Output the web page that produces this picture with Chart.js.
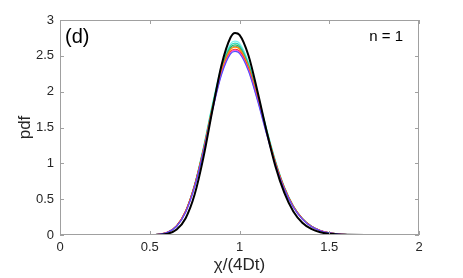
<!DOCTYPE html>
<html><head><meta charset="utf-8">
<script src="https://cdn.jsdelivr.net/npm/chart.js@4"></script>
<style>html,body{margin:0;padding:0;background:#fff}#wrap{width:463px;height:278px}</style>
</head><body><div id="wrap"><canvas id="c" width="463" height="278"></canvas></div>
<script>
const xBlack = [0.2,0.3,0.4,0.5,0.55,0.6,0.65,0.7,0.75,0.8,0.85,0.9,0.95,0.975,1.0,1.05,1.1,1.15,1.2,1.25,1.3,1.35,1.4,1.45,1.5,1.55,1.6,1.7,1.8,1.9,2.0];
const yBlack = [0,0,0,0.0004,0.003,0.018,0.076,0.234,0.564,1.094,1.754,2.372,2.755,2.819,2.792,2.504,2.005,1.458,0.961,0.587,0.328,0.171,0.084,0.038,0.017,0.007,0.003,0.0003,0,0,0];
const xColor = [0.45,0.5,0.55,0.6,0.65,0.7,0.75,0.8,0.85,0.9,0.95,0.975,1.0,1.05,1.1,1.15,1.2,1.25,1.3,1.35,1.4,1.45,1.5,1.55,1.6,1.7,1.75];
const yCyan    = [0,0.001,0.008,0.037,0.127,0.335,0.708,1.236,1.839,2.363,2.669,2.704,2.677,2.415,1.984,1.496,1.041,0.673,0.409,0.233,0.124,0.063,0.030,0.015,0.006,0.001,0];
const yAqua    = [0,0.001,0.008,0.037,0.126,0.332,0.701,1.224,1.821,2.340,2.643,2.678,2.651,2.392,1.965,1.481,1.031,0.666,0.405,0.231,0.123,0.063,0.030,0.014,0.006,0.001,0];
const yGreen   = [0,0.001,0.008,0.037,0.124,0.328,0.695,1.212,1.803,2.317,2.617,2.652,2.625,2.368,1.946,1.467,1.021,0.660,0.401,0.228,0.121,0.062,0.030,0.014,0.006,0.001,0];
const yGray    = [0,0.001,0.008,0.036,0.124,0.326,0.690,1.203,1.791,2.302,2.599,2.634,2.607,2.352,1.933,1.457,1.014,0.655,0.398,0.227,0.121,0.062,0.029,0.014,0.006,0.001,0];
const yOrange  = [0,0.001,0.009,0.038,0.126,0.330,0.692,1.200,1.782,2.290,2.587,2.621,2.595,2.345,1.930,1.458,1.016,0.658,0.401,0.229,0.122,0.063,0.030,0.014,0.006,0.001,0];
const yRed     = [0,0.002,0.010,0.040,0.130,0.334,0.694,1.190,1.762,2.262,2.556,2.592,2.566,2.318,1.906,1.440,1.004,0.651,0.398,0.229,0.122,0.063,0.030,0.014,0.006,0.001,0];
const yMagenta = [0,0.001,0.008,0.036,0.121,0.319,0.676,1.178,1.754,2.254,2.545,2.579,2.553,2.303,1.893,1.427,0.993,0.642,0.390,0.222,0.118,0.061,0.029,0.014,0.006,0.001,0];
const yBlue    = [0,0.001,0.009,0.037,0.122,0.318,0.671,1.170,1.741,2.238,2.528,2.561,2.535,2.287,1.879,1.416,0.986,0.637,0.387,0.221,0.117,0.060,0.029,0.014,0.006,0.001,0];
const xTicks = [0,0.5,1,1.5,2];
const yTicks = [0,0.5,1,1.5,2,2.5,3];
const panelLabel = "(d)";
const nLabel = "n = 1";
const xTitle = "χ/(4Dt)";
const yTitle = "pdf";

const FONT = "'Liberation Sans', Arial, Helvetica, sans-serif";
function pts(xs, ys){ return xs.map((x,i)=>({x:x, y:ys[i]})); }
function ds(ys, color){ return {data: pts(xColor, ys), borderColor: color, borderWidth: 1.2, pointRadius: 0, cubicInterpolationMode: 'monotone', fill: false}; }

const boxPlugin = {
  id: 'box',
  afterDraw(chart){
    const {ctx, chartArea: a, scales} = chart;
    ctx.save();
    ctx.strokeStyle = '#a0a0a0';
    ctx.lineWidth = 1;
    ctx.strokeRect(Math.round(a.left)+0.5, Math.round(a.top)+0.5, Math.round(a.right-a.left)-1, Math.round(a.bottom-a.top)-1);
    ctx.beginPath();
    const tl = 4;
    xTicks.forEach(v=>{
      const px = Math.round(scales.x.getPixelForValue(v))+0.5;
      ctx.moveTo(px, a.bottom); ctx.lineTo(px, a.bottom - tl);
      ctx.moveTo(px, a.top); ctx.lineTo(px, a.top + tl);
    });
    yTicks.forEach(v=>{
      const py = Math.round(scales.y.getPixelForValue(v))+0.5;
      ctx.moveTo(a.left, py); ctx.lineTo(a.left + tl, py);
      ctx.moveTo(a.right, py); ctx.lineTo(a.right - tl, py);
    });
    ctx.stroke();
    ctx.fillStyle = '#000';
    ctx.textBaseline = 'middle';
    ctx.textAlign = 'left';
    ctx.font = "20px " + FONT;
    ctx.fillText(panelLabel, a.left + 5, a.top + 17);
    ctx.font = "15px " + FONT;
    ctx.textAlign = 'right';
    ctx.fillText(nLabel, a.right - 16, a.top + 17);
    ctx.restore();
  }
};

new Chart(document.getElementById('c'), {
  type: 'line',
  data: {
    datasets: [
      {data: pts(xBlack, yBlack), borderColor: '#000000', borderWidth: 2, pointRadius: 0, cubicInterpolationMode: 'monotone', fill: false},
      ds(yBlue, '#5050ff'),
      ds(yMagenta, '#ff50c8'),
      ds(yRed, '#ff1a00'),
      ds(yOrange, '#ff9a00'),
      ds(yGray, '#808080'),
      ds(yGreen, '#20c060'),
      ds(yAqua, '#30d8c0'),
      ds(yCyan, '#80f0f0')
    ]
  },
  options: {
    responsive: false,
    animation: false,
    events: [],
    layout: {padding: {left: 0, top: 20, right: 44, bottom: 0}},
    plugins: {legend: {display: false}, tooltip: {enabled: false}},
    scales: {
      x: {
        type: 'linear', min: 0, max: 2,
        afterBuildTicks(s){ s.ticks = xTicks.map(v=>({value:v})); },
        afterFit(s){ s.height = 43; },
        ticks: {color: '#262626', font: {family: FONT, size: 13}, padding: 5, maxRotation: 0, callback: v => String(v)},
        grid: {display: false, drawTicks: false},
        border: {display: false},
        title: {display: true, text: xTitle, color: '#262626', font: {family: FONT, size: 17}, padding: {top: 0, bottom: 2}}
      },
      y: {
        type: 'linear', min: 0, max: 3,
        afterBuildTicks(s){ s.ticks = yTicks.map(v=>({value:v})); },
        afterFit(s){ s.width = 60; },
        ticks: {color: '#262626', font: {family: FONT, size: 13}, padding: 6, callback: v => String(v)},
        grid: {display: false, drawTicks: false},
        border: {display: false},
        title: {display: true, text: yTitle, color: '#262626', font: {family: FONT, size: 17}, padding: {top: 15, bottom: 0}}
      }
    }
  },
  plugins: [boxPlugin]
});
</script>
</body></html>
